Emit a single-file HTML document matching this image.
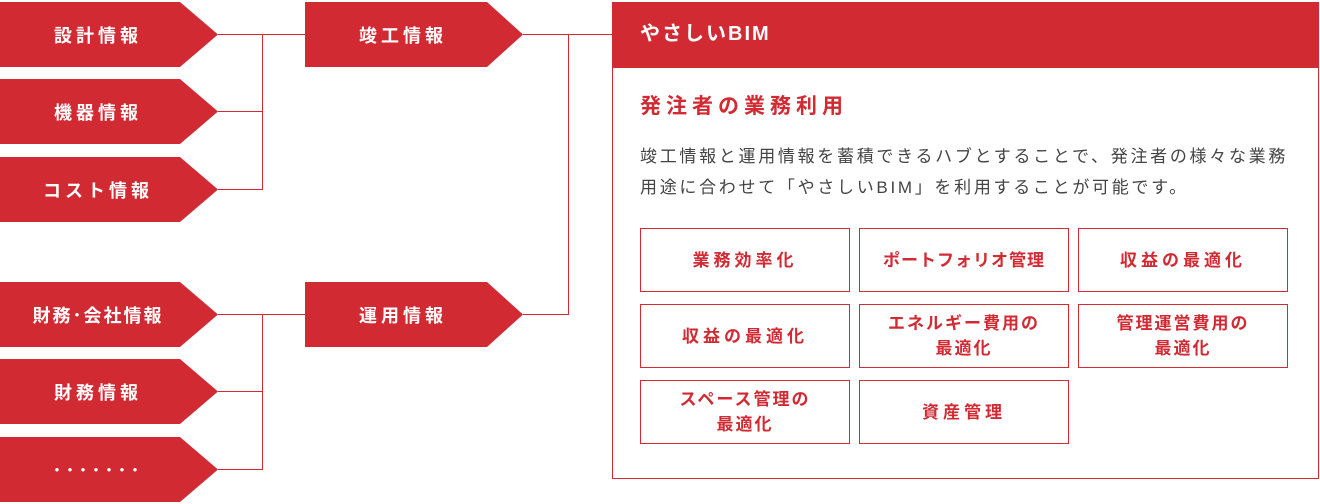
<!DOCTYPE html>
<html><head><meta charset="utf-8"><style>
body{margin:0;width:1320px;height:504px;background:#fff;position:relative;overflow:hidden;font-family:"Liberation Sans","Noto Sans CJK JP",sans-serif;}
.a{position:absolute;height:65px;background:#d22a33;color:#fff;font-weight:bold;font-size:18px;letter-spacing:4px;display:flex;align-items:center;}
.l{left:0;width:218px;clip-path:polygon(0 0,180px 0,100% 50%,180px 100%,0 100%);}
.m{left:305px;width:218px;clip-path:polygon(0 0,182px 0,100% 50%,182px 100%,0 100%);}
.t{position:absolute;left:0;width:196px;text-align:center;}
.ln{position:absolute;background:#d22a33;}
.h{height:1px}.v{width:1px}
.p{position:absolute;left:612px;top:2px;width:705px;height:475px;border:1px solid #d22a33;}
.ph{height:65px;background:#d22a33;color:#fff;font-size:20px;font-weight:bold;letter-spacing:2px;padding-left:27px;line-height:63px;}
.b{position:absolute;width:208px;height:62px;border:1px solid #d22a33;color:#d22a33;font-weight:bold;font-size:17px;letter-spacing:4px;display:flex;align-items:center;justify-content:center;text-align:center;line-height:25px;}
</style></head><body>
<div class="a l" style="top:2px"><span class="t">設計情報</span></div>
<div class="a l" style="top:79px"><span class="t">機器情報</span></div>
<div class="a l" style="top:157px"><span class="t">コスト情報</span></div>
<div class="a l" style="top:282px"><span class="t" style="letter-spacing:2px">財務･会社情報</span></div>
<div class="a l" style="top:359px"><span class="t">財務情報</span></div>
<div class="a l" style="top:437px"><span class="t">･･･････</span></div>
<div class="a m" style="top:2px"><span class="t" style="width:196px">竣工情報</span></div>
<div class="a m" style="top:282px"><span class="t" style="width:196px">運用情報</span></div>

<div class="ln h" style="left:218px;top:34px;width:87px"></div>
<div class="ln h" style="left:218px;top:111px;width:44px"></div>
<div class="ln h" style="left:218px;top:189px;width:44px"></div>
<div class="ln v" style="left:262px;top:34px;height:156px"></div>
<div class="ln h" style="left:218px;top:314px;width:87px"></div>
<div class="ln h" style="left:218px;top:391px;width:44px"></div>
<div class="ln h" style="left:218px;top:469px;width:44px"></div>
<div class="ln v" style="left:262px;top:314px;height:156px"></div>
<div class="ln h" style="left:523px;top:34px;width:90px"></div>
<div class="ln h" style="left:523px;top:314px;width:45px"></div>
<div class="ln v" style="left:568px;top:34px;height:281px"></div>

<div class="p">
<div class="ph">やさしいBIM</div>
<div style="position:absolute;left:27px;top:87px;color:#d22a33;font-size:21px;font-weight:bold;letter-spacing:5px">発注者の業務利用</div>
<div style="position:absolute;left:27px;top:138px;width:680px;color:#444;font-size:17px;letter-spacing:2.7px;line-height:31px;white-space:nowrap">竣工情報と運用情報を蓄積できるハブとすることで、発注者の様々な業務<br>用途に合わせて「やさしいBIM」を利用することが可能です。</div>
</div>
<div class="b" style="left:640px;top:228px">業務効率化</div>
<div class="b" style="left:859px;top:228px;letter-spacing:1px">ポートフォリオ管理</div>
<div class="b" style="left:1078px;top:228px">収益の最適化</div>
<div class="b" style="left:640px;top:304px">収益の最適化</div>
<div class="b" style="left:859px;top:304px;letter-spacing:2px">エネルギー費用の<br>最適化</div>
<div class="b" style="left:1078px;top:304px;letter-spacing:2px">管理運営費用の<br>最適化</div>
<div class="b" style="left:640px;top:380px;letter-spacing:2px">スペース管理の<br>最適化</div>
<div class="b" style="left:859px;top:380px">資産管理</div>
</body></html>
